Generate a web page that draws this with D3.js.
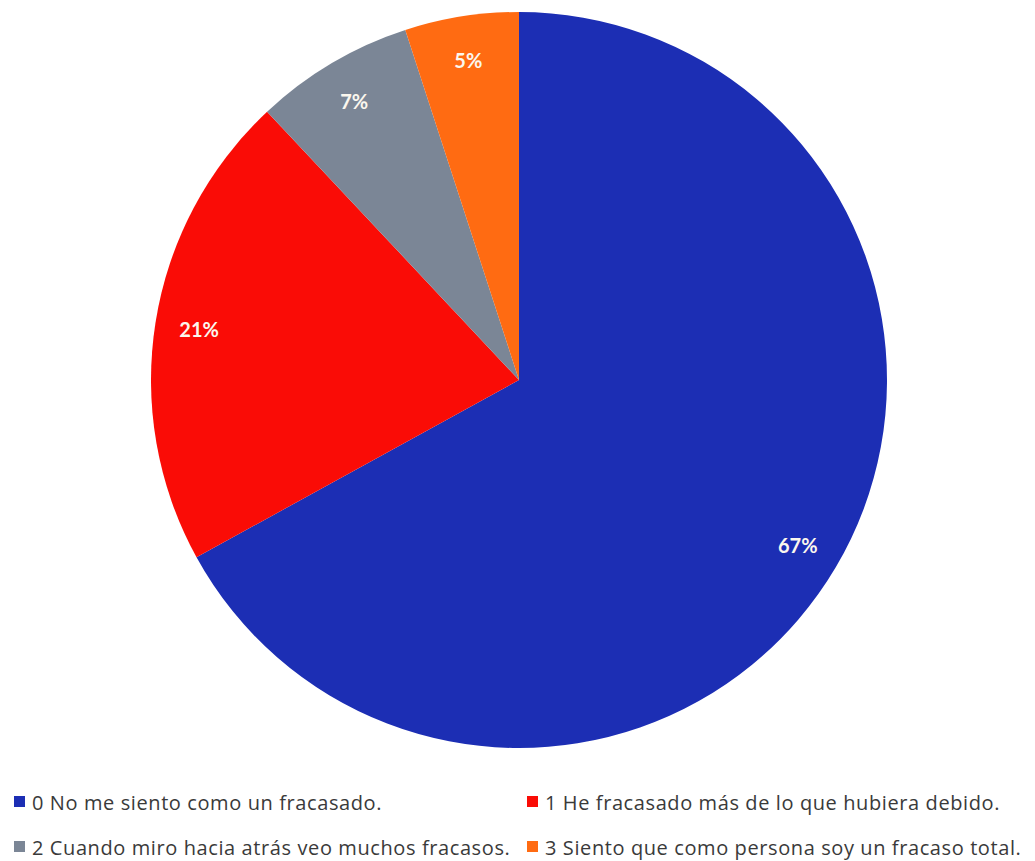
<!DOCTYPE html>
<html>
<head>
<meta charset="utf-8">
<script src="https://cdn.jsdelivr.net/npm/d3@7"></script>
<style>
  html, body { margin: 0; padding: 0; background: #fff; }
  svg { display: block; }
</style>
</head>
<body>
<svg id="chart" width="1035" height="861"></svg>
<script>
// Responses to item: self-perceived failure
const categories = [
  "0 No me siento como un fracasado.",
  "1 He fracasado más de lo que hubiera debido.",
  "2 Cuando miro hacia atrás veo muchos fracasos.",
  "3 Siento que como persona soy un fracaso total."
];
const shares = [67, 21, 7, 5];
const labels = ["67%", "21%", "7%", "5%"];
const colors = ["#1c2eb4", "#fa0c06", "#7b8696", "#ff6b12"];

const svg = d3.select("#chart");
const cx = 519, cy = 380, R = 368;

const pie = d3.pie().sort(null).value(d => d)(shares);
const arc = d3.arc().innerRadius(0).outerRadius(R);
const labelArc = d3.arc().innerRadius(R * 0.88).outerRadius(R * 0.88);

const g = svg.append("g").attr("transform", `translate(${cx},${cy})`);

g.selectAll("path.slice")
  .data(pie)
  .join("path")
  .attr("class", "slice")
  .attr("d", arc)
  .attr("fill", (d, i) => colors[i]);

g.selectAll("text.pct")
  .data(pie)
  .join("text")
  .attr("class", "pct")
  .attr("transform", d => `translate(${labelArc.centroid(d)})`)
  .attr("text-anchor", "middle")
  .attr("dominant-baseline", "central")
  .attr("font-family", "Lato, 'Open Sans', sans-serif")
  .attr("font-weight", "bold")
  .attr("font-size", 20)
  .attr("fill", "#fbf7ee")
  .text((d, i) => labels[i]);

// Legend: two columns, two rows
const legendCols = [14, 527];
const legendRows = [802, 847];
const legend = svg.append("g");
const items = legend.selectAll("g.item")
  .data(categories)
  .join("g")
  .attr("class", "item")
  .attr("transform", (d, i) => `translate(${legendCols[i % 2]},${legendRows[Math.floor(i / 2)]})`);

items.append("rect")
  .attr("x", 0).attr("y", -6)
  .attr("width", 11).attr("height", 11)
  .attr("fill", (d, i) => colors[i]);

items.append("text")
  .attr("x", 18)
  .attr("y", 0)
  .attr("dominant-baseline", "central")
  .attr("font-family", "'Open Sans', sans-serif")
  .attr("font-size", 20)
  .attr("letter-spacing", 0.6)
  .attr("fill", "#3a3a3a")
  .text(d => d);
</script>
</body>
</html>
